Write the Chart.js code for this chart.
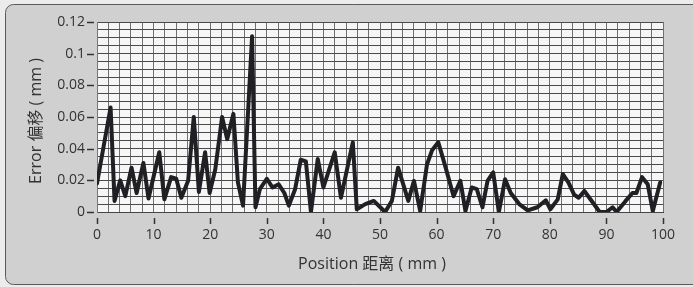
<!DOCTYPE html>
<html>
<head>
<meta charset="utf-8">
<script src="https://cdn.jsdelivr.net/npm/chart.js@4"></script>
<style>
  body { margin: 0; background: #ececec; }
  canvas { display: block; }
</style>
</head>
<body>
<canvas id="errorChart" width="693" height="287"></canvas>
<script>
// Position (mm) of each vertex of the trace
const positions = [0, 2.4, 3.1, 4.1, 5.0, 6.1, 7.0, 8.2, 9.1, 11.0, 11.9, 13.1, 14, 14.9, 16.1, 17.1, 18, 19.1, 19.9, 20.9,
    22.1, 23, 24.1, 24.9, 25.8, 27.4, 28, 28.8, 30, 31, 32.1, 33.1, 33.9, 35, 36, 36.9, 37.8, 39, 40, 42,
    43.1, 45.2, 45.9, 47.4, 48.9, 50.9, 52.1, 53.2, 55, 56, 57.1, 58.3, 59.2, 60.3, 61.6, 63, 64.2, 65.1, 66.2, 67.1,
    68.1, 69, 70, 71, 72.1, 73.1, 74.6, 76.1, 77.8, 79.3, 80.1, 81.4, 82.3, 83.3, 84.3, 85.1, 86.1, 87.6, 88.8, 90,
    91.1, 91.8, 93.4, 94.6, 95.3, 96.3, 97.3, 98.2, 99.5];
// Error (mm) at each of those positions
const errors = [0.018, 0.066, 0.007, 0.020, 0.010, 0.028, 0.012, 0.031, 0.0085, 0.0377, 0.008, 0.022, 0.021, 0.009, 0.0197, 0.060, 0.0127, 0.0377, 0.012, 0.027,
    0.060, 0.046, 0.062, 0.0186, 0.004, 0.111, 0.003, 0.0146, 0.021, 0.0155, 0.0175, 0.012, 0.004, 0.0144, 0.033, 0.032, 0.0, 0.0335, 0.0155, 0.0377,
    0.009, 0.044, 0.0017, 0.005, 0.007, 0.0, 0.007, 0.028, 0.007, 0.0197, 0.0006, 0.030, 0.039, 0.044, 0.028, 0.010, 0.0197, 0.0006, 0.0155, 0.0144,
    0.003, 0.0197, 0.025, 0.0, 0.0207, 0.012, 0.005, 0.001, 0.003, 0.0074, 0.0017, 0.008, 0.024, 0.0186, 0.011, 0.009, 0.0133, 0.006, 0.0, 0.0,
    0.003, 0.0, 0.007, 0.012, 0.012, 0.022, 0.0175, 0.0006, 0.0186];

const xLabelValues = [0, 10, 20, 30, 40, 50, 60, 70, 80, 90, 100];
const yLabelValues = [0, 0.02, 0.04, 0.06, 0.08, 0.1, 0.12];

const xTitle = 'Position 距离 ( mm )';
const yTitle = 'Error 偏移 ( mm )';

const FONT = '"Open Sans", "Noto Sans CJK SC", sans-serif';
const TEXT = '#333333';

function isLabel(v, list) {
    return list.some(l => Math.abs(l - v) < 1e-9);
}

// paper / panel / plot background, outer ticks and axis titles
const backdrop = {
    id: 'backdrop',
    beforeDraw(chart) {
        const ctx = chart.ctx;
        const a = chart.chartArea;
        ctx.save();
        ctx.fillStyle = '#ececec';
        ctx.fillRect(0, 0, chart.width, chart.height);
        ctx.beginPath();
        ctx.roundRect(5.5, 4.5, 730, 280, 8);
        ctx.fillStyle = '#d0d0d0';
        ctx.fill();
        ctx.strokeStyle = '#5a5a5a';
        ctx.lineWidth = 1;
        ctx.stroke();
        ctx.fillStyle = '#f6f6f6';
        ctx.fillRect(a.left, a.top, a.right - a.left, a.bottom - a.top);
        ctx.restore();
    },
    afterDraw(chart) {
        const ctx = chart.ctx;
        const a = chart.chartArea;
        const xs = chart.scales.x;
        const ys = chart.scales.y;
        ctx.save();
        ctx.strokeStyle = '#333';
        ctx.lineWidth = 1.5;
        yLabelValues.forEach(v => {
            const y = Math.round(ys.getPixelForValue(v)) + 0.5;
            ctx.beginPath();
            ctx.moveTo(a.left - 10, y);
            ctx.lineTo(a.left - 3, y);
            ctx.stroke();
        });
        xLabelValues.forEach(v => {
            const x = Math.round(xs.getPixelForValue(v)) + 0.5;
            ctx.beginPath();
            ctx.moveTo(x, a.bottom + 6);
            ctx.lineTo(x, a.bottom + 12);
            ctx.stroke();
        });
        ctx.fillStyle = TEXT;
        ctx.font = '16px ' + FONT;
        ctx.textAlign = 'center';
        ctx.textBaseline = 'middle';
        ctx.fillText(xTitle, 372, 264);
        ctx.translate(36, 121);
        ctx.rotate(-Math.PI / 2);
        ctx.fillText(yTitle, 0, 0);
        ctx.restore();
    }
};

new Chart(document.getElementById('errorChart'), {
    type: 'scatter',
    data: {
        datasets: [{
            data: positions.map((p, i) => ({ x: p, y: errors[i] })),
            showLine: true,
            borderColor: '#1f1f24',
            borderWidth: 4,
            borderJoinStyle: 'round',
            borderCapStyle: 'round',
            pointRadius: 0,
            tension: 0
        }]
    },
    options: {
        responsive: false,
        animation: false,
        layout: { padding: { left: 0, top: 22, right: 30, bottom: 0 } },
        plugins: {
            legend: { display: false },
            tooltip: { enabled: false }
        },
        scales: {
            x: {
                type: 'linear',
                min: 0,
                max: 100,
                afterFit(scale) { scale.height = 75; },
                border: { display: true, color: '#444', width: 1 },
                grid: {
                    drawTicks: false,
                    color: '#707070',
                    lineWidth: 1
                },
                ticks: {
                    stepSize: 2,
                    autoSkip: false,
                    maxRotation: 0,
                    padding: 15,
                    color: TEXT,
                    font: { family: FONT, size: 14 },
                    callback: v => isLabel(v, xLabelValues) ? String(v) : ''
                }
            },
            y: {
                min: 0,
                max: 0.12,
                afterFit(scale) { scale.width = 97; },
                border: { display: true, color: '#777', width: 1 },
                grid: {
                    drawTicks: false,
                    color: '#4a4a4a',
                    lineWidth: 1
                },
                ticks: {
                    stepSize: 0.005,
                    autoSkip: false,
                    padding: 12,
                    color: TEXT,
                    font: { family: FONT, size: 14 },
                    callback: v => isLabel(v, yLabelValues) ? String(Math.round(v * 100) / 100) : ''
                }
            }
        }
    },
    plugins: [backdrop]
});
</script>
</body>
</html>
